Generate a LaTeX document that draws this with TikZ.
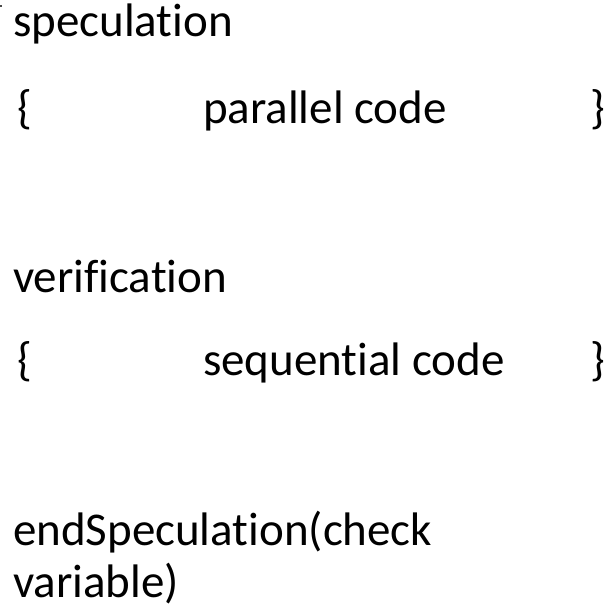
\documentclass[tikz,border=0pt]{standalone}
\usepackage{fontspec}
\setmainfont{Carlito}[Ligatures={NoCommon,NoRare}]
\begin{document}
\begin{tikzpicture}[x=1pt,y=-1pt,
  txt/.style={anchor=base west,inner sep=0pt,outer sep=0pt,font=\fontsize{47}{56}\selectfont,text=black}]
\useasboundingbox (0,0) rectangle (610,610);
\fill[black!70] (0,5.5) rectangle (2.2,7.5);
\node[txt] (spec) at (13,37) {speculation};
\node[txt] (lb1) at (17,123) {\{};
\node[txt] (par) at (203,123) {parallel code};
\node[txt] (rb1) at (590,123) {\}};
\node[txt] (ver) at (13,292) {verification};
\node[txt] (lb2) at (17,375) {\{};
\node[txt] (seq) at (203,375) {sequential code};
\node[txt] (rb2) at (590,375) {\}};
\node[txt] (end) at (13,545) {endSpeculation(check};
\node[txt] (var) at (13,597) {variable)};
\end{tikzpicture}
\end{document}
